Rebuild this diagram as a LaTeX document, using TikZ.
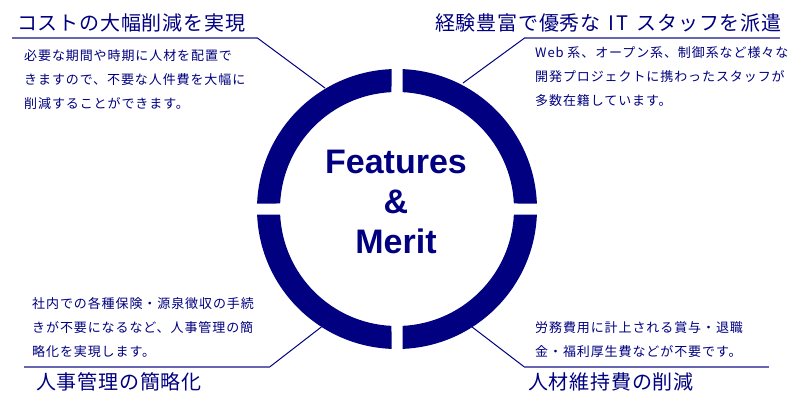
\documentclass[tikz,border=0pt]{standalone}
\usepackage{fontspec}
\setmainfont{Liberation Sans}
\newfontfamily\jpbody[LetterSpace=7]{Noto Sans CJK JP}
\newfontfamily\jptitle[LetterSpace=4]{Noto Sans CJK JP}
\definecolor{navy}{RGB}{0,0,128}
\definecolor{rule}{RGB}{102,102,179}
\tikzset{
  titletext/.style={inner sep=0pt, anchor=base west, text=navy, font=\jptitle\fontsize{20}{24}\selectfont},
  bodytext/.style={inner sep=0pt, anchor=base west, align=left, text=navy, font=\jpbody\fontsize{13}{24}\selectfont},
  hrule/.style={draw=rule, line width=2pt},
  diag/.style={draw=navy, line width=1pt},
}
\begin{document}
\begin{tikzpicture}[x=1pt,y=-1pt]
\useasboundingbox[fill=white] (0,0) rectangle (800,400);
\coordinate (c) at (397,209);
% ring segments
\foreach \a in {0,90,180,270}{
  \fill[navy] ([shift={(c)}]\a+2.25:140) arc[start angle=\a+2.25, end angle=\a+87.75, radius=140]
    -- ([shift={(c)}]\a+87.3:117) arc[start angle=\a+87.3, end angle=\a+2.7, radius=117] -- cycle;
}
% base anchor of a multi-line node = baseline of its last line
\node[inner sep=0pt, align=center, text=navy, font=\bfseries\fontsize{34}{40}\selectfont, anchor=base] (center) at (396,253) {Features\\\&\\Merit};

% top-left
\node[titletext] (t1) at (17,30.5) {コストの大幅削減を実現};
\node[bodytext] (b1) at (24,108) {必要な期間や時期に人材を配置で\\きますので、不要な人件費を大幅に\\削減することができます。};
\coordinate (h1a) at (12,37.7);
\coordinate (h1b) at (257,37.7);
\coordinate (r1) at (325,88);
\draw[hrule] (h1a) -- (h1b);
\draw[diag] (h1b) -- (r1);

% top-right
\node[titletext] (t2) at (435,30.5) {経験豊富で優秀な\hspace{8pt}I\hspace{2pt}T\hspace{8pt}スタッフを派遣};
\node[bodytext] (b2) at (535,105) {Web 系、オープン系、制御系など様々な\\開発プロジェクトに携わったスタッフが\\多数在籍しています。};
\coordinate (h2a) at (780,37.7);
\coordinate (h2b) at (525,37.7);
\coordinate (r2) at (463,83);
\draw[hrule] (h2a) -- (h2b);
\draw[diag] (h2b) -- (r2);

% bottom-left
\node[bodytext] (b3) at (32,356) {社内での各種保険・源泉徴収の手続\\きが不要になるなど、人事管理の簡\\略化を実現します。};
\node[titletext] (t3) at (36,389.5) {人事管理の簡略化};
\coordinate (h3a) at (24,366.7);
\coordinate (h3b) at (270,366.7);
\coordinate (r3) at (321.7,326.7);
\draw[hrule] (h3a) -- (h3b);
\draw[diag] (h3b) -- (r3);

% bottom-right
\node[bodytext] (b4) at (535,356) {労務費用に計上される賞与・退職\\金・福利厚生費などが不要です。};
\node[titletext] (t4) at (528,389.5) {人材維持費の削減};
\coordinate (h4a) at (769,366.7);
\coordinate (h4b) at (524,366.7);
\coordinate (r4) at (471.7,326.7);
\draw[hrule] (h4a) -- (h4b);
\draw[diag] (h4b) -- (r4);
\end{tikzpicture}
\end{document}
